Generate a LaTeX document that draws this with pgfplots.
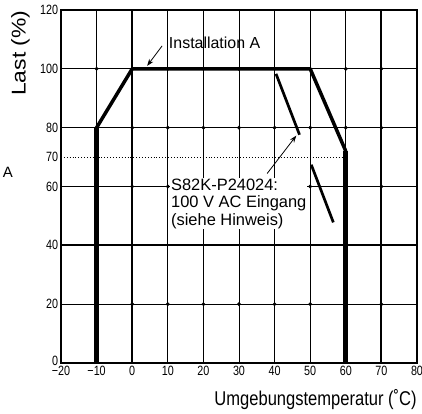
\documentclass[border=0pt]{standalone}
\usepackage{pgfplots}
\pgfplotsset{compat=1.18}
\usepackage{fontspec}
\setmainfont{Liberation Sans}
\usetikzlibrary{arrows.meta}
\begin{document}
\begin{tikzpicture}
\useasboundingbox (-61bp,-51bp) rectangle (361bp,363bp);
\begin{axis}[
 at={(0,0)}, anchor=south west,
 scale only axis, width=356bp, height=353bp,
 xmin=-20, xmax=80, ymin=0, ymax=120,
 xtick={-20,-10,0,10,20,30,40,50,60,70,80},
 xticklabels={−20,−10,0,10,20,30,40,50,60,70,80},
 ytick={0,20,40,60,80,100,120},
 yticklabels={\raisebox{5bp}{0},20,40,60,80,100,120},
 extra y ticks={70}, extra y tick style={grid=none},
 grid=major, grid style={black, line width=0.8bp},
 axis line style={line width=1.8bp},
 major tick length=0pt,
 tick label style={font=\fontsize{13.5}{15}\selectfont, xscale=0.8},
 /pgf/number format/assume math mode=true,
 clip=false,
]
% heavier grid lines
\addplot[black, line width=2bp] coordinates {(0,0)(0,120)};
\addplot[black, line width=2bp] coordinates {(70,0)(70,120)};
\addplot[black, line width=2bp] coordinates {(-20,40)(80,40)};
% 70 % reference
\addplot[black, dotted, line width=0.9bp] coordinates {(-20,70)(60,70)};
% grid dots
\addplot[black, only marks, mark=*, mark size=1.7bp] coordinates {
(-10,20)(0,20)(10,20)(20,20)(30,20)(40,20)(50,20)(60,20)(70,20)
(-10,60)(0,60)(10,60)(50,60)(60,60)(70,60)
(-10,80)(0,80)(10,80)(20,80)(30,80)(40,80)(50,80)(60,80)(70,80)
(-10,100)(0,100)(10,100)(20,100)(30,100)(40,100)(50,100)(60,100)(70,100)
};
% derating curve (Installation A)
\addplot[black, line width=3.5bp, line join=round] coordinates {(-10,80)(0,100)(50,100)(60,72)};
\addplot[black, line width=5bp] coordinates {(-10,0)(-10,80)};
\addplot[black, line width=5bp] coordinates {(60,0)(60,72)};
% S82K-P24024 100 V AC
\addplot[black, line width=2.7bp] coordinates {(40.4,98.3)(47,77.6)};
\addplot[black, line width=2.7bp] coordinates {(50.3,67.4)(56.5,47.8)};
% annotations
\node[anchor=west, align=left, fill=white, inner sep=1bp, font=\fontsize{16.5}{17.5}\selectfont]
  at (axis cs:10.6,54.2) {S82K-P24024:\\100 V AC Eingang\\(siehe Hinweis)};
\draw[-{Stealth[length=7bp,width=5bp]}, line width=0.8bp] (axis cs:37.9,64.4) -- (axis cs:46.1,77.3);
\node[anchor=west, inner sep=1bp, font=\fontsize{16}{19}\selectfont] at (axis cs:10.0,108.8) {Installation A};
\draw[-{Stealth[length=7bp,width=5bp]}, line width=0.8bp] (axis cs:8.4,107.8) -- (axis cs:4.2,101);
\node[font=\fontsize{15}{18}\selectfont] at (axis cs:-34.9,64.7) {A};
\node[rotate=90, font=\fontsize{20}{24}\selectfont] at (axis cs:-31.4,105.3) {\scalebox{1.15}[1]{Last (\%)}};
\node[anchor=east, font=\fontsize{20}{24}\selectfont] at (axis cs:80.9,-12.5) {\scalebox{0.83}[1]{Umgebungstemperatur (˚C)}};
\end{axis}
\end{tikzpicture}
\end{document}
